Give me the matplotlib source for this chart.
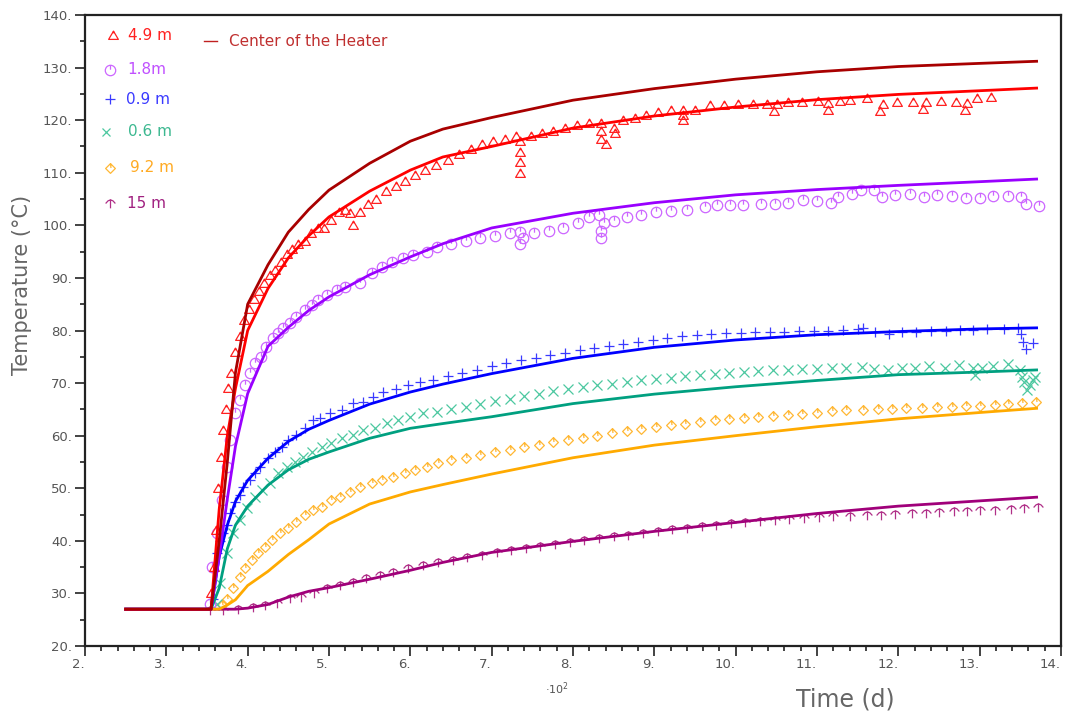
import numpy as np
import matplotlib
matplotlib.use("Agg")
import matplotlib.pyplot as plt
from matplotlib.path import Path

# ---------------- data ----------------
# model (line) curves
t_line = [250, 355, 365, 375, 385, 400, 425, 450, 475, 500, 550, 600, 640, 700, 800, 900, 1000, 1100, 1200, 1300, 1370]
heater_line = [27, 27, 40, 55, 72, 85, 92.5, 98.7, 103, 106.7, 111.8, 116, 118.3, 120.5, 123.8, 126, 127.8, 129.2, 130.2, 130.8, 131.2]
m49_line = [27, 27, 46, 60, 69, 80, 88, 93.8, 98, 101.6, 106.5, 110.5, 113, 115, 118.5, 120.8, 122.5, 123.9, 124.9, 125.6, 126.1]
m18_line = [27, 27, 37, 48, 58, 68, 77, 80.6, 83.8, 86.4, 90.6, 94, 96.5, 99.5, 102.3, 104.3, 105.8, 106.8, 107.6, 108.3, 108.8]
m09_line = [27, 27, 37, 43, 47.5, 51.5, 55.7, 58.9, 61.2, 62.9, 66, 68.3, 69.8, 71.8, 74.7, 76.8, 78.2, 79.2, 79.8, 80.3, 80.5]
m06_line = [27, 27, 31, 38.5, 43, 46.6, 50.6, 53.5, 55.5, 56.9, 59.5, 61.4, 62.3, 63.6, 66.1, 67.9, 69.3, 70.5, 71.6, 72.1, 72.5]
m92_line = [27, 27, 27, 27.8, 28.8, 31.5, 34.2, 37.4, 40.2, 43.2, 47, 49.3, 50.7, 52.7, 55.8, 58.2, 60.0, 61.7, 63.2, 64.4, 65.2]
m15_line = [27, 27, 27, 27, 27, 27.2, 27.9, 29.3, 30.4, 31.1, 32.7, 34.4, 35.9, 37.8, 39.9, 41.8, 43.5, 45.2, 46.6, 47.6, 48.3]

# measurements (markers)
t49 = [355, 358, 361, 364, 367, 370, 373, 376, 380, 385, 390, 396, 402, 408, 414, 420, 427, 434, 441, 448, 455, 462, 470, 478, 486, 494, 502, 512, 520, 526, 529, 538, 548, 558, 570, 582, 594, 606, 618, 632, 646, 660, 674, 688, 702, 716, 730, 735, 735, 735, 735, 748, 762, 776, 790, 805, 820, 835, 835, 835, 840, 850, 852, 862, 876, 890, 905, 920, 935, 935, 935, 950, 968, 986, 1003, 1021, 1038, 1047, 1051, 1064, 1082, 1101, 1114, 1114, 1128, 1140, 1161, 1178, 1181, 1198, 1218, 1230, 1234, 1253, 1271, 1282, 1285, 1297, 1314]
v49 = [30, 35, 42, 50, 56, 61, 65, 69, 72, 76, 79, 82, 84, 86, 87.5, 89, 90.5, 91.5, 93, 94.5, 95.5, 96.5, 97, 98.5, 99.5, 99.5, 101, 102.5, 103, 102.3, 100.1, 102.5, 104, 105, 106.5, 107.5, 108.5, 109.5, 110.5, 111.5, 112.5, 113.5, 114.5, 115.5, 116, 116.5, 117, 116, 114, 112, 110, 117, 117.5, 118, 118.5, 119, 119.5, 119.5, 118, 116.5, 115.5, 118.5, 117.5, 120, 120.5, 121, 121.5, 122, 122, 121, 120, 122, 122.9, 122.8, 123, 123, 123, 121.7, 123, 123.5, 123.5, 123.6, 123.3, 121.9, 123.6, 123.8, 124.2, 121.8, 123.1, 123.5, 123.5, 122.1, 123.5, 123.6, 123.5, 121.9, 123.3, 124.2, 124.4]

t18 = [354, 356, 362, 368, 374, 378, 384, 390, 397, 403, 409, 417, 423, 431, 437, 443, 452, 460, 470, 479, 487, 497, 510, 520, 538, 553, 565, 577, 591, 603, 620, 633, 650, 668, 686, 704, 722, 735, 735, 738, 752, 770, 788, 806, 820, 832, 835, 835, 838, 850, 866, 884, 902, 920, 940, 962, 977, 993, 1009, 1031, 1048, 1064, 1083, 1100, 1117, 1126, 1143, 1154, 1170, 1180, 1196, 1214, 1232, 1248, 1266, 1283, 1301, 1316, 1335, 1351, 1357, 1373]
v18 = [28, 35, 41.5, 47.8, 54, 59.2, 64.3, 66.8, 69.6, 71.9, 73.8, 75, 76.9, 78.6, 79.5, 80.5, 81.4, 82.6, 83.9, 84.8, 85.8, 86.7, 87.7, 88.3, 89, 90.9, 92.1, 93, 93.8, 94.4, 95, 95.9, 96.5, 97, 97.5, 98, 98.5, 98.8, 96.5, 97.5, 98.5, 99, 99.5, 100.5, 101.5, 102, 97.5, 99, 100.5, 100.8, 101.5, 102, 102.5, 102.8, 103, 103.5, 103.9, 103.9, 103.9, 104.1, 104.1, 104.3, 104.8, 104.6, 104.3, 105.4, 106, 106.7, 106.7, 105.4, 105.8, 106, 105.4, 105.8, 105.6, 105.2, 105.2, 105.6, 105.6, 105.4, 104, 103.7]

t09 = [357, 362, 366, 370, 374, 378, 384, 390, 394, 403, 409, 415, 425, 434, 442, 450, 460, 470, 480, 489, 501, 516, 530, 542, 554, 566, 582, 597, 612, 628, 646, 664, 682, 700, 718, 736, 754, 772, 790, 808, 826, 844, 862, 880, 898, 916, 934, 952, 970, 988, 1006, 1024, 1042, 1060, 1078, 1096, 1114, 1132, 1150, 1157, 1171, 1189, 1205, 1222, 1240, 1259, 1276, 1292, 1309, 1330, 1347, 1351, 1353, 1357, 1366]
v09 = [29, 37.7, 40, 41.5, 43, 45.3, 47.4, 48.7, 50.2, 51.6, 52.9, 54, 55.7, 56.9, 57.8, 59.2, 60.1, 61.5, 63, 63.4, 64.3, 64.9, 66.2, 66.4, 67.3, 68.3, 68.9, 69.6, 70.2, 70.6, 71.3, 72, 72.5, 73.2, 73.8, 74.3, 74.8, 75.3, 75.8, 76.2, 76.6, 77, 77.4, 77.9, 78.2, 78.6, 78.9, 79.2, 79.4, 79.5, 79.6, 79.7, 79.8, 79.8, 79.9, 79.9, 80, 80.1, 80.2, 80.5, 79.7, 79.3, 79.7, 79.7, 79.9, 79.9, 80.1, 80.1, 80.3, 80.3, 80.5, 79.3, 77.8, 76.5, 77.6]

t06 = [362, 366, 374, 382, 390, 399, 409, 418, 427, 437, 448, 458, 468, 479, 491, 503, 516, 530, 542, 557, 571, 585, 600, 616, 633, 650, 668, 686, 704, 722, 740, 758, 776, 794, 812, 830, 848, 866, 884, 902, 920, 938, 956, 974, 992, 1010, 1028, 1046, 1064, 1082, 1100, 1118, 1136, 1155, 1170, 1187, 1204, 1221, 1238, 1257, 1275, 1292, 1294, 1303, 1317, 1335, 1349, 1352, 1355, 1358, 1362, 1366, 1368]
v06 = [28, 32, 37.7, 41.5, 44, 46.2, 48.3, 49.7, 51, 52.9, 54, 55, 55.9, 56.9, 57.8, 58.6, 59.6, 60.1, 61.1, 61.5, 62.4, 63, 63.5, 64.3, 64.5, 65, 65.5, 66, 66.5, 67, 67.5, 68, 68.4, 68.8, 69.2, 69.6, 69.9, 70.2, 70.5, 70.8, 71, 71.3, 71.5, 71.7, 71.9, 72.1, 72.3, 72.4, 72.5, 72.6, 72.7, 72.8, 72.9, 73, 72.6, 72.5, 72.9, 72.9, 73.2, 72.9, 73.4, 72.9, 71.5, 72.9, 73.2, 73.6, 72.5, 71.2, 70.2, 68.7, 69.6, 70.6, 71.2]

t92 = [368, 374, 382, 390, 397, 405, 413, 421, 430, 440, 450, 460, 470, 480, 491, 503, 513, 526, 538, 553, 565, 579, 593, 606, 620, 634, 650, 668, 686, 704, 722, 740, 758, 776, 794, 812, 830, 848, 866, 884, 902, 920, 938, 956, 974, 992, 1010, 1028, 1046, 1064, 1082, 1100, 1118, 1136, 1157, 1175, 1192, 1210, 1229, 1248, 1266, 1283, 1301, 1319, 1335, 1352, 1369]
v92 = [27.8, 29, 31, 33.1, 34.8, 36.3, 37.7, 38.8, 40.2, 41.5, 42.4, 43.6, 44.9, 45.9, 46.4, 47.8, 48.3, 49.3, 50.2, 51, 51.6, 52.1, 52.9, 53.5, 54, 54.8, 55.3, 55.8, 56.3, 56.8, 57.3, 57.8, 58.3, 58.8, 59.2, 59.6, 60, 60.5, 60.9, 61.3, 61.6, 62, 62.3, 62.6, 62.9, 63.2, 63.4, 63.6, 63.8, 64, 64.2, 64.4, 64.6, 64.8, 64.9, 65.1, 65.1, 65.3, 65.3, 65.4, 65.5, 65.6, 65.7, 65.8, 66, 66.2, 66.4]

t15 = [354, 370, 388, 407, 421, 436, 452, 466, 481, 497, 513, 529, 546, 563, 579, 597, 616, 634, 652, 670, 688, 706, 724, 742, 760, 778, 796, 814, 832, 850, 868, 886, 904, 922, 940, 958, 976, 994, 1012, 1030, 1048, 1066, 1084, 1102, 1120, 1140, 1161, 1179, 1196, 1217, 1234, 1250, 1268, 1285, 1301, 1319, 1338, 1355, 1372]
v15 = [26.8, 26.8, 27, 27.4, 27.8, 28.2, 29.1, 29.3, 30.1, 31, 31.6, 32.2, 32.9, 33.5, 34.1, 34.8, 35.4, 36, 36.4, 36.9, 37.3, 37.8, 38.2, 38.6, 39, 39.4, 39.8, 40.2, 40.5, 40.9, 41.2, 41.5, 41.9, 42.2, 42.5, 42.8, 43.1, 43.3, 43.6, 43.8, 44, 44.2, 44.4, 44.5, 44.7, 44.8, 44.9, 45, 45.1, 45.2, 45.3, 45.5, 45.6, 45.7, 45.8, 45.9, 46, 46.2, 46.4]

legend_labels = ["4.9 m", "1.8m", "0.9 m", "0.6 m", "9.2 m", "15 m"]
heater_label = "Center of the Heater"
x_ticks = list(range(200, 1401, 100))
y_ticks = list(range(20, 141, 10))

# ---------------- styles ----------------
C_HEAT = "#a80000"
C49_L, C49_M = "#ff0000", "#ff2020"
C18_L, C18_M = "#9900ff", "#cc66ff"
C09_L, C09_M = "#0000ff", "#3a3aff"
C06_L, C06_M = "#00a080", "#4cc8a0"
C92_L, C92_M = "#ffaa00", "#ffb733"
C15_L, C15_M = "#a0007a", "#b03088"

# custom marker paths
def circ_tick():
    c = Path.unit_circle()
    verts = list(c.vertices) + [(0, 1), (0, 0.15)]
    codes = list(c.codes) + [Path.MOVETO, Path.LINETO]
    return Path(verts, codes)

def tri_dot():
    verts = [(-1, -0.8), (1, -0.8), (0, 0.9), (-1, -0.8), (0, 0.9), (0, 0.45)]
    codes = [Path.MOVETO, Path.LINETO, Path.LINETO, Path.CLOSEPOLY, Path.MOVETO, Path.LINETO]
    return Path(verts, codes)

def dia_tick():
    verts = [(0, 1), (1, 0), (0, -1), (-1, 0), (0, 1), (0, 1), (0.1, 0.1)]
    codes = [Path.MOVETO, Path.LINETO, Path.LINETO, Path.LINETO, Path.CLOSEPOLY, Path.MOVETO, Path.LINETO]
    return Path(verts, codes)

def umbrella():
    verts = [(-1, 0.0), (-0.5, 0.55), (0, 0.75), (0.5, 0.55), (1, 0.0), (0, 0.75), (0, -1)]
    codes = [Path.MOVETO, Path.LINETO, Path.LINETO, Path.LINETO, Path.LINETO, Path.MOVETO, Path.LINETO]
    return Path(verts, codes)

M49, M18, M92, M15 = tri_dot(), circ_tick(), dia_tick(), umbrella()

plt.rcParams['font.family'] = ['DejaVu Sans']
fig = plt.figure(figsize=(10.67, 7.16), dpi=100)
ax = fig.add_axes([85 / 1067, 70 / 716, (1061 - 85) / 1067, (646 - 15) / 716])

mk = dict(linestyle="none", fillstyle="none", markeredgewidth=0.9)
ax.plot(t15, v15, marker=M15, markersize=7, color=C15_M, **mk)
ax.plot(t92, v92, marker=M92, markersize=7, color=C92_M, **mk)
ax.plot(t06, v06, marker="x", markersize=6.5, color=C06_M, **mk)
ax.plot(t09, v09, marker="+", markersize=7.5, color=C09_M, **mk)
ax.plot(t18, v18, marker=M18, markersize=7.5, color=C18_M, **mk)
ax.plot(t49, v49, marker=M49, markersize=7, color=C49_M, **mk)

lw = 2.0
ax.plot(t_line, m15_line, color=C15_L, lw=lw)
ax.plot(t_line, m92_line, color=C92_L, lw=lw)
ax.plot(t_line, m06_line, color=C06_L, lw=lw)
ax.plot(t_line, m09_line, color=C09_L, lw=lw)
ax.plot(t_line, m18_line, color=C18_L, lw=lw)
ax.plot(t_line, m49_line, color=C49_L, lw=lw)
ax.plot(t_line, heater_line, color=C_HEAT, lw=lw)

ax.set_xlim(200, 1400)
ax.set_ylim(20, 140)
ax.set_xticks(x_ticks)
ax.set_xticklabels([f"{v // 100}." for v in x_ticks], ha="right")
ax.set_xticks(list(range(200, 1401, 20)), minor=True)
ax.set_yticks(y_ticks)
ax.set_yticklabels([f"{v}." for v in y_ticks])
ax.set_yticks(list(range(20, 141, 5)), minor=True)
ax.tick_params(axis="both", which="major", direction="out", length=7.5, width=1.2,
               color="#222222", labelcolor="#555555", labelsize=9.5)
ax.tick_params(axis="both", which="minor", direction="out", length=3.8, width=1.2, color="#222222")
ax.tick_params(axis="x", pad=1)
ax.tick_params(axis="y", pad=2)
for s in ax.spines.values():
    s.set_linewidth(1.6)
    s.set_color("#222222")

fig.text(22 / 1067, 1 - 285 / 716, "Temperature (°C)", rotation=90, ha="center", va="center",
         fontsize=15, color="#666666")
fig.text(845 / 1067, 1 - 700 / 716, "Time (d)", ha="center", va="center", fontsize=17, color="#666666")
fig.text(557 / 1067, 1 - 689 / 716, "·10$^2$", ha="center", va="center", fontsize=8, color="#555555")

# legend (manual)
leg = [
    (M49, 7, C49_M, 113, 35, 128, legend_labels[0], "#ff2020"),
    (M18, 7.5, C18_M, 110, 70, 127, legend_labels[1], "#c050ff"),
    ("+", 7.5, C09_M, 110, 99, 126, legend_labels[2], "#3a3aff"),
    ("x", 6, C06_M, 106, 132, 128, legend_labels[3], "#3cb890"),
    (M92, 7, C92_M, 110, 168, 130, legend_labels[4], "#ffaa22"),
    (M15, 7, C15_M, 110, 203, 127, legend_labels[5], "#a02080"),
]
for m, ms, c, mx, my, tx, lab, tc in leg:
    fig.add_artist(plt.Line2D([mx / 1067], [1 - my / 716], marker=m, markersize=ms, color=c,
                              fillstyle="none", markeredgewidth=0.9, linestyle="none",
                              transform=fig.transFigure))
    fig.text(tx / 1067, 1 - my / 716, lab, ha="left", va="center", fontsize=11, color=tc)

fig.add_artist(plt.Line2D([204 / 1067, 217 / 1067], [1 - 41 / 716, 1 - 41 / 716],
                          color="#c02020", lw=1.0, transform=fig.transFigure))
fig.text(229 / 1067, 1 - 41 / 716, heater_label, ha="left", va="center", fontsize=11, color="#c03030")

fig.savefig("out.png", dpi=100)
